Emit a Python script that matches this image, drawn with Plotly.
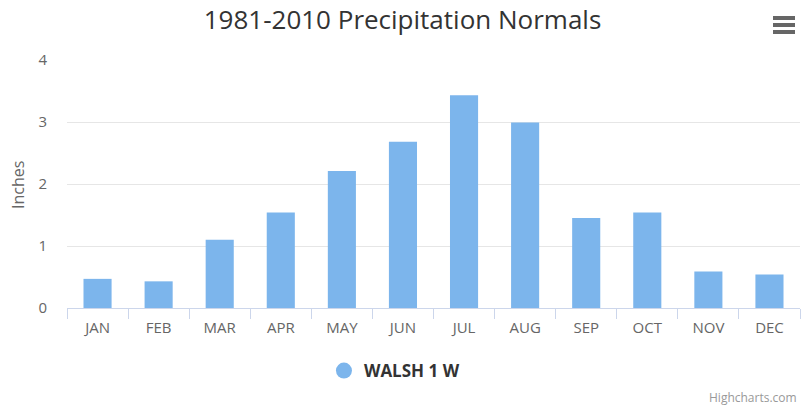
import plotly.graph_objects as go

months = ["JAN", "FEB", "MAR", "APR", "MAY", "JUN", "JUL", "AUG", "SEP", "OCT", "NOV", "DEC"]
precip = [0.47, 0.43, 1.10, 1.54, 2.21, 2.68, 3.43, 2.99, 1.45, 1.54, 0.59, 0.54]
series_name = "WALSH 1 W"
title_text = "1981-2010 Precipitation Normals"
y_ticks = [0, 1, 2, 3, 4]

BAR = "#7cb5ec"
FONT = "Open Sans, DejaVu Sans, sans-serif"

L, R, T, B = 67, 5, 60, 109
PW, PH = 805 - L - R, 417 - T - B


def px(x):
    return (x - L) / PW


def py(y):
    return (417 - B - y) / PH


fig = go.Figure()
fig.add_trace(go.Bar(x=months, y=precip, marker=dict(color=BAR, line=dict(width=0)),
                     showlegend=False, name=series_name))
fig.add_trace(go.Scatter(x=[None], y=[None], mode="markers", name="<b>" + series_name + "</b>",
                         marker=dict(symbol="circle", size=16, color=BAR)))

fig.update_layout(
    width=805, height=417,
    margin=dict(l=L, r=R, t=T, b=B, autoexpand=False),
    paper_bgcolor="white", plot_bgcolor="white",
    bargap=0.54,
    title=dict(text=title_text, x=0.5, xref="container", xanchor="center",
               y=1 - 20 / 417, yref="container", yanchor="middle",
               font=dict(family=FONT, size=26, color="#333333")),
    font=dict(family=FONT, color="#666666"),
    xaxis=dict(showline=True, linecolor="#ccd6eb", linewidth=1, automargin=False,
               ticks="outside", tickson="boundaries", ticklen=10, tickcolor="#ccd6eb",
               ticklabelstandoff=6,
               tickfont=dict(size=15, color="#666666"), showgrid=False, fixedrange=True),
    yaxis=dict(range=[0, 4], tickvals=y_ticks, showgrid=True, gridcolor="#e6e6e6",
               zeroline=False, showline=False, ticks="", automargin=False,
               ticklabelstandoff=19, fixedrange=True,
               tickfont=dict(size=15, color="#666666")),
    legend=dict(orientation="h", x=0.49, xref="container", xanchor="center",
                y=1 - 371 / 417, yref="container", yanchor="middle",
                font=dict(size=17, color="#333333", family=FONT), itemsizing="trace"),
    showlegend=True,
)

fig.add_annotation(text="Inches", xref="paper", yref="paper", x=px(18), y=py(185),
                   textangle=-90, showarrow=False, xanchor="center", yanchor="middle",
                   font=dict(size=16, color="#666666", family=FONT))

# hamburger menu icon (decoration)
for yy in [18, 25, 32]:
    fig.add_shape(type="line", xref="paper", yref="paper",
                  x0=px(773), x1=px(795), y0=py(yy), y1=py(yy),
                  line=dict(color="#666666", width=4))

fig.add_annotation(text="Highcharts.com", xref="paper", yref="paper",
                   x=px(799), y=py(397), xanchor="right", yanchor="middle",
                   showarrow=False, font=dict(size=12, color="#999999", family=FONT))

fig.write_html("out.html", config={"displayModeBar": False},
               post_script="document.body.style.margin='0px';")
